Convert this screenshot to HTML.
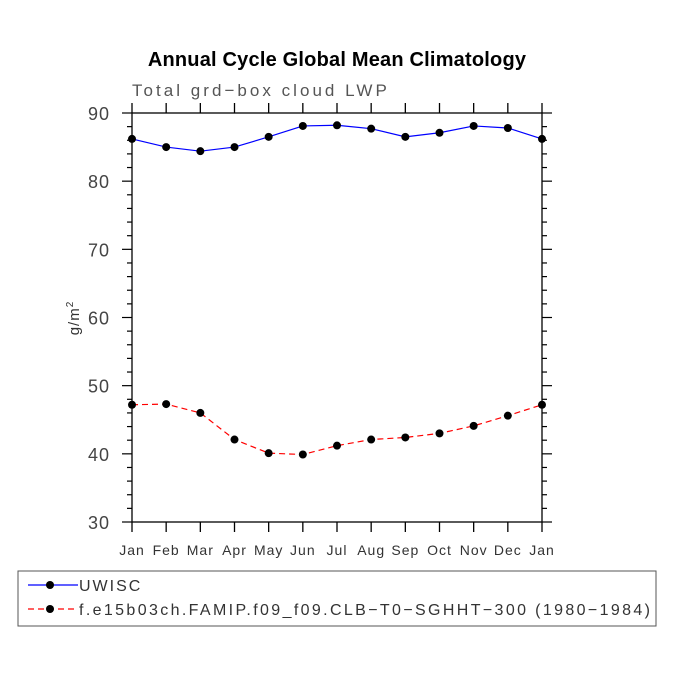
<!DOCTYPE html>
<html><head><meta charset="utf-8"><style>
body{margin:0;background:#fff;}
svg text{font-family:"Liberation Sans",sans-serif;}
</style></head><body>
<svg id="c" width="675" height="675" xmlns="http://www.w3.org/2000/svg">
<rect width="675" height="675" fill="#fff"/>
<text x="337" y="66" text-anchor="middle" font-size="20" font-weight="bold" fill="#000" letter-spacing="0.2">Annual Cycle Global Mean Climatology</text>
<text x="132" y="96" font-size="17" fill="#555" letter-spacing="2.2" textLength="257">Total grd−box cloud LWP</text>
<text transform="translate(79,318) rotate(-90)" text-anchor="middle" font-size="15" fill="#333" letter-spacing="1">g/m<tspan dy="-6" font-size="10">2</tspan></text>
<g id="axes"></g>
<g id="series"></g>
<rect x="18" y="571" width="638" height="55" fill="none" stroke="#555" stroke-width="1"/>
<g>
<line x1="28" y1="585" x2="78" y2="585" stroke="#0000ff" stroke-width="1.2"/>
<circle cx="50" cy="585" r="4" fill="#000"/>
<text x="79" y="591" font-size="16" fill="#333" letter-spacing="2">UWISC</text>
</g>
<g>
<line x1="28" y1="609" x2="78" y2="609" stroke="#ff0000" stroke-width="1.2" stroke-dasharray="6,4"/>
<circle cx="50" cy="609" r="4" fill="#000"/>
<text x="79" y="615" font-size="16" fill="#333" letter-spacing="2" textLength="573">f.e15b03ch.FAMIP.f09_f09.CLB−T0−SGHHT−300 (1980−1984)</text>
</g>
</svg>
<script>
const months=["Jan","Feb","Mar","Apr","May","Jun","Jul","Aug","Sep","Oct","Nov","Dec","Jan"];
const uwisc=[86.2,85.0,84.4,85.0,86.5,88.1,88.2,87.7,86.5,87.1,88.1,87.8,86.2];
const model=[47.2,47.3,46.0,42.1,40.1,39.9,41.2,42.1,42.4,43.0,44.1,45.6,47.2];
const yTicks=[30,40,50,60,70,80,90];
const X0=132,X1=542,Y0=522,Y1=113,YMIN=30,YMAX=90;
const xs=i=>X0+(X1-X0)*i/(months.length-1);
const ys=v=>Y0-(Y0-Y1)*(v-YMIN)/(YMAX-YMIN);
const NS="http://www.w3.org/2000/svg";
function mk(t,a,p){const e=document.createElementNS(NS,t);for(const k in a)e.setAttribute(k,a[k]);p.appendChild(e);return e;}
const ax=document.getElementById('axes');
const fr=mk('rect',{x:X0,y:Y1,width:X1-X0,height:Y0-Y1,fill:'none',stroke:'#000','stroke-width':1.3},ax);


months.forEach((m,i)=>{
  const x=xs(i);
  mk('line',{x1:x,y1:Y0,x2:x,y2:Y0+10,stroke:'#000','stroke-width':1.3},ax);
  mk('line',{x1:x,y1:Y1,x2:x,y2:Y1-10,stroke:'#000','stroke-width':1.3},ax);
  const t=mk('text',{x:x,y:555,'text-anchor':'middle','font-size':14,fill:'#333','letter-spacing':1},ax);
  t.textContent=m;
  
  
});
for(let v=YMIN;v<=YMAX;v+=2){
  const y=ys(v),maj=(v%10===0),L=maj?10:5;
  mk('line',{x1:X0-L,y1:y,x2:X0,y2:y,stroke:'#000','stroke-width':1.2},ax);
  mk('line',{x1:X1,y1:y,x2:X1+L,y2:y,stroke:'#000','stroke-width':1.2},ax);
}
yTicks.forEach(v=>{
  const t=mk('text',{x:110,y:ys(v)+7,'text-anchor':'end','font-size':18,fill:'#444','letter-spacing':1},ax);
  t.textContent=v;
  
  
});
const sg=document.getElementById('series');
function series(vals,color,dash,name){
  const g=mk('g',{},sg);
  
  
  const a={points:vals.map((v,i)=>xs(i)+','+ys(v)).join(' '),fill:'none',stroke:color,'stroke-width':1.2};
  if(dash)a['stroke-dasharray']=dash;
  mk('polyline',a,g);
  vals.forEach((v,i)=>{
    const c=mk('circle',{cx:xs(i),cy:ys(v),r:4,fill:'#000'},g);
    
    
  });
}
series(uwisc,'#0000ff',null,'series-uwisc');
series(model,'#ff0000','6,4','series-model');
</script>
</body></html>
